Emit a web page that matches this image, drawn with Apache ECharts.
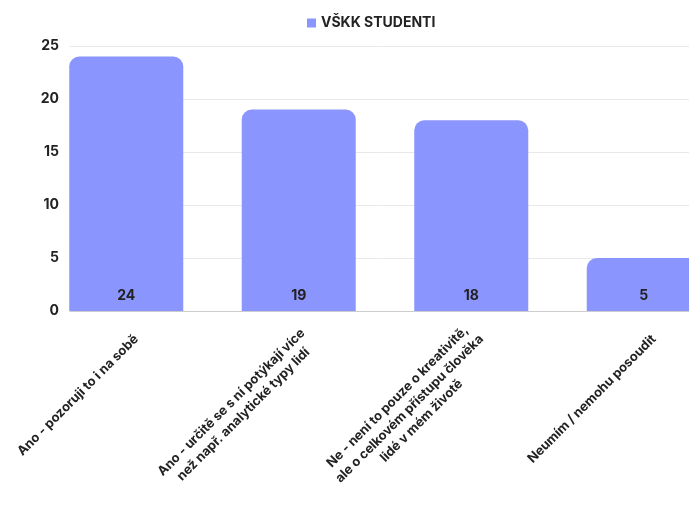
<!DOCTYPE html>
<html>
<head>
<meta charset="utf-8">
<script src="https://cdn.jsdelivr.net/npm/echarts@6/dist/echarts.min.js"></script>
<style>html,body{margin:0;padding:0;background:#fff}#c{width:689px;height:510px}</style>
</head>
<body>
<div id="c"></div>
<script>
const categories = [
  "Ano - pozoruji to i na sobě",
  "Ano - určitě se s ní potýkají více\nnež např. analytické typy lidí",
  "Ne - není to pouze o kreativitě,\nale o celkovém přístupu člověka\nlidé v mém životě",
  "Neumím / nemohu posoudit"
];
const seriesName = "VŠKK STUDENTI";
const values = [24, 19, 18, 5];
const yTicks = [0, 5, 10, 15, 20, 25];

const FONT = 'Inter';
const TXT = '#222';
const chart = echarts.init(document.getElementById('c'));
const gridBase = { top: 46, bottom: 199, outerBoundsMode: 'none', containLabel: false };
chart.setOption({
  animation: false,
  legend: {
    data: [seriesName],
    left: 302, top: 11,
    icon: 'rect', itemWidth: 9, itemHeight: 9, itemGap: 6,
    textStyle: { fontFamily: FONT, fontWeight: 'bold', fontSize: 14, color: TXT }
  },
  grid: [
    Object.assign({ left: 70, right: 0 }, gridBase),
    Object.assign({ left: 40, width: 690 }, gridBase),
    Object.assign({ left: 50, width: 690 }, gridBase)
  ],
  xAxis: [
    { gridIndex: 0, type: 'category', data: categories, axisTick: { show: false }, axisLabel: { show: false },
      axisLine: { lineStyle: { color: '#cccccc', width: 1 } } },
    { gridIndex: 1, type: 'category', data: categories, show: false },
    { gridIndex: 2, type: 'category', data: categories, axisTick: { show: false }, axisLine: { show: false },
      axisLabel: {
        interval: 0, rotate: 45, margin: 26,
        formatter: v => v.split('\n').map(l => '{c|' + l + '}').join('\n'),
        rich: { c: { align: 'center', fontFamily: FONT, fontWeight: 'bold', fontSize: 13, color: TXT, lineHeight: 17 } }
      } }
  ],
  yAxis: [
    { gridIndex: 0, type: 'value', min: yTicks[0], max: yTicks[yTicks.length - 1], interval: 5,
      axisLine: { show: false }, axisTick: { show: false },
      axisLabel: { margin: 11, fontFamily: FONT, fontWeight: 'bold', fontSize: 14, color: TXT },
      splitLine: { lineStyle: { color: '#e8e8e8', width: 1 } } },
    { gridIndex: 1, type: 'value', min: yTicks[0], max: yTicks[yTicks.length - 1], show: false, splitLine: { show: false } },
    { gridIndex: 2, type: 'value', min: 0, max: 25, show: false, splitLine: { show: false } }
  ],
  series: [{
    name: seriesName, type: 'bar', xAxisIndex: 1, yAxisIndex: 1,
    data: values, barWidth: 114,
    itemStyle: { color: '#8b95fe', borderRadius: [10, 10, 0, 0] },
    label: { show: true, position: 'insideBottom', distance: 8,
      fontFamily: FONT, fontWeight: 'bold', fontSize: 14, color: TXT }
  }]
});
</script>
</body>
</html>
